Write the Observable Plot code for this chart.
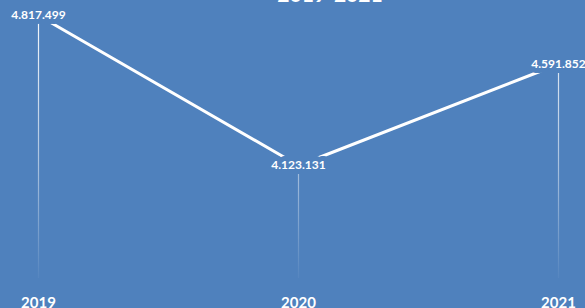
<!DOCTYPE html>
<html>
<head>
<meta charset="utf-8">
<script src="https://cdn.jsdelivr.net/npm/d3@7"></script>
<script src="https://cdn.jsdelivr.net/npm/@observablehq/plot@0.6"></script>
<style>
  html, body { margin: 0; padding: 0; background: #4f81bd; overflow: hidden; }
  #wrap { position: relative; width: 585px; height: 308px; overflow: hidden; }
  #title { position: absolute; top: -19px; left: 0; width: 660px; text-align: center;
           font-family: Lato, sans-serif; font-weight: bold; font-size: 21px; color: white; z-index: 2; }
  svg { display: block; }
</style>
</head>
<body>
<div id="wrap"><div id="title"></div></div>
<script>
const title = "2019-2021";
const years = ["2019", "2020", "2021"];
const values = [4817499, 4123131, 4591852];
const valueLabels = ["4.817.499", "4.123.131", "4.591.852"];
const yMin = 3600000;
const yMax = 4900000;

const data = years.map((y, i) => ({year: y, value: values[i], label: valueLabels[i]}));
const bg = "#4f81bd";

document.getElementById("title").textContent = title;

const chart = Plot.plot({
  width: 585,
  height: 308,
  marginTop: 0,
  marginBottom: 12,
  marginLeft: 0,
  marginRight: 0,
  style: {background: bg, color: "white", fontFamily: "Lato, sans-serif", overflow: "hidden"},
  x: {type: "point", domain: years, range: [37, 558], padding: 0},
  y: {domain: [yMin, yMax], range: [278, -2.8], axis: null},
  marks: [
    Plot.ruleX(data, {x: "year", y1: yMin, y2: "value", stroke: "url(#fade)", strokeWidth: 1.2}),
    Plot.line(data, {x: "year", y: "value", stroke: "white", strokeWidth: 3}),
    Plot.text(data, {x: "year", y: "value", text: "label", fill: "white", stroke: bg,
                     strokeWidth: 10, fontSize: 12, fontWeight: "bold"}),
    Plot.axisX({tickSize: 0, tickPadding: 1, fontSize: 15, fontWeight: "bold", fill: "white", label: null})
  ]
});

d3.select(chart).insert("defs", ":first-child").html(
  '<linearGradient id="fade" gradientUnits="userSpaceOnUse" x1="0" y1="0" x2="0" y2="280">' +
  '<stop offset="0" stop-color="white" stop-opacity="1"/>' +
  '<stop offset="0.6" stop-color="white" stop-opacity="0.5"/>' +
  '<stop offset="1" stop-color="white" stop-opacity="0.03"/>' +
  '</linearGradient>'
);

document.getElementById("wrap").appendChild(chart);
</script>
</body>
</html>
